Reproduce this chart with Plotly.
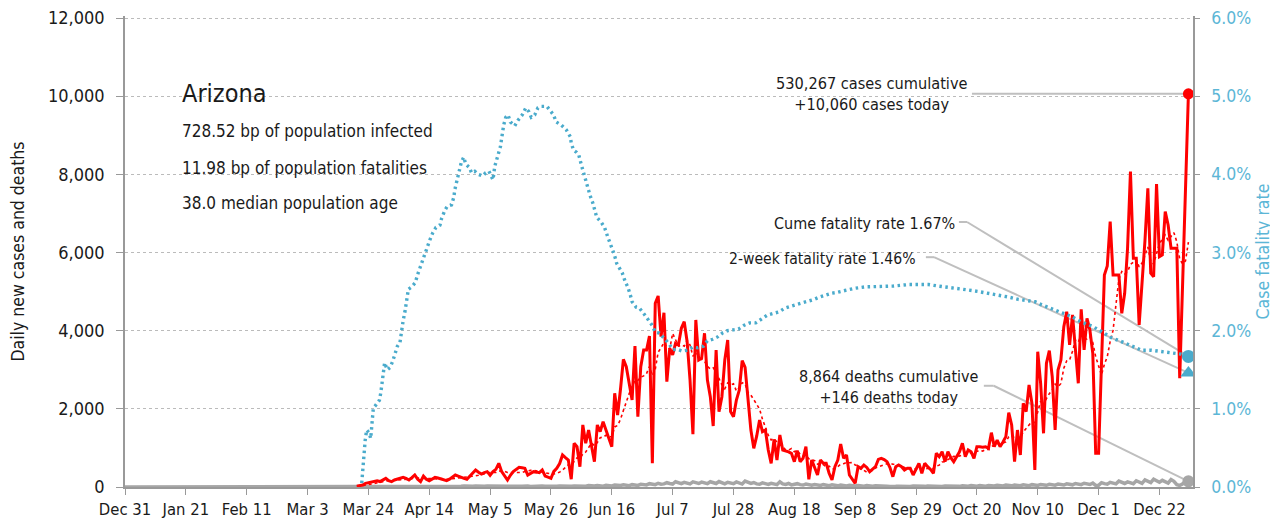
import pandas as pd
import plotly.graph_objects as go

# ---------------- data ----------------
case_start = "2020-03-20"
cases = [
    20, 30,
    50, 95, 110, 130, 150, 160, 140, 180, 222, 160,
    136, 180, 200, 230, 247, 220, 179, 240, 307, 200,
    136, 281, 200, 160, 200, 247, 230, 200, 180, 160,
    200, 260, 307, 280, 240, 220, 196, 280, 350, 435,
    380, 333, 370, 392, 300, 392, 450, 606, 392, 280,
    179, 300, 392, 450, 503, 490, 478, 307, 350, 392,
    380, 366, 435, 281, 250, 222, 400, 478, 600, 819,
    750, 690, 200, 1118, 1031, 520, 1587, 1118, 1458, 1031,
    648, 1587, 1416, 1672, 1458, 1200, 1031, 2398, 1842, 2500,
    3267, 3079, 2600, 2226, 3608, 1799, 3079, 3506, 3506, 3864,
    606, 4701, 4888, 3846, 4460, 2695, 3549, 3378, 3677, 3634,
    4061, 4231, 3718, 2738, 1349, 4274, 3250, 3293, 3933, 2738,
    2311, 1561, 3506, 1927, 2311, 3250, 3762, 1927, 1799, 2226,
    2480, 3232, 3063, 2200, 1458, 990, 1300, 1714, 1416, 1458,
    947, 606, 1220, 691, 1331, 947, 929, 900, 862, 648,
    929, 648, 734, 1031, 197, 691, 500, 307, 691, 606,
    606, 351, 179, 520, 691, 1100, 734, 819, 307, 200,
    94, 520, 478, 563, 500, 392, 450, 520, 708, 734,
    700, 648, 500, 264, 520, 563, 520, 435, 478, 478,
    307, 450, 606, 351, 606, 520, 450, 351, 862, 776,
    904, 648, 904, 750, 648, 776, 900, 1118, 776, 947,
    900, 734, 1031, 1031, 1020, 1031, 990, 1390, 1031, 1203,
    1031, 1150, 1288, 1901, 1587, 648, 1458, 819, 2142, 1927,
    2610, 2142, 435, 3462, 2653, 1374, 3165, 3488, 2823, 1458,
    2994, 3250, 4102, 4486, 3634, 4402, 3421, 2653, 4547, 3506,
    4317, 4018, 3421, 862, 862, 3079, 5425, 5655, 6789, 5425,
    5425, 5425, 4445, 4957, 6108, 8069, 5852, 5852, 4146, 5126,
    6300, 7644, 5468, 5382, 7754, 5894, 5937, 7045, 6705, 6108,
    6108, 6108, 2782, 5100, 7600, 10060,
]
deaths = [
    1, 1, 2, 2, 3, 2,
    3, 4, 3, 5, 6, 4, 7, 8, 6, 9,
    10, 8, 12, 9, 15, 11, 14, 10, 18, 12,
    16, 20, 14, 12, 18, 22, 15, 19, 13, 21,
    17, 24, 18, 15, 22, 26, 19, 14, 20, 23,
    25, 18, 28, 21, 16, 24, 30, 20, 17, 26,
    22, 19, 28, 24, 15, 20, 30, 18, 25, 22,
    17, 26, 21, 19, 28, 24, 16, 30, 22, 27,
    20, 33, 25, 18, 36, 28, 24, 40, 30, 22,
    45, 35, 28, 50, 42, 38, 55, 46, 35, 60,
    48, 40, 70, 58, 52, 85, 65, 60, 95, 72,
    80, 110, 90, 75, 135, 100, 85, 120, 95, 80,
    130, 105, 90, 125, 95, 85, 135, 110, 90, 140,
    100, 80, 120, 95, 85, 130, 100, 75, 150, 110,
    90, 115, 80, 70, 105, 85, 65, 95, 75, 60,
    135, 80, 65, 90, 55, 70, 85, 60, 50, 75,
    55, 45, 65, 50, 40, 60, 45, 35, 55, 40,
    30, 50, 35, 28, 45, 32, 25, 40, 30, 22,
    35, 25, 20, 30, 22, 18, 28, 20, 15, 25,
    18, 22, 15, 28, 20, 14, 25, 18, 12, 22,
    16, 24, 18, 14, 26, 20, 15, 28, 22, 18,
    30, 22, 16, 32, 24, 20, 35, 26, 18, 38,
    28, 22, 40, 30, 25, 45, 34, 28, 48, 36,
    30, 52, 40, 32, 55, 44, 35, 60, 48, 40,
    65, 52, 44, 70, 56, 48, 75, 60, 50, 80,
    65, 55, 90, 70, 60, 95, 78, 65, 100, 40,
    45, 110, 85, 70, 120, 95, 80, 150, 110, 90,
    130, 100, 85, 160, 120, 95, 180, 140, 110, 200,
    150, 120, 170, 130, 100, 190, 145, 60, 40, 80,
    120, 146,
]
# case fatality rate (%) read at day offsets from Dec 31, 2019
cfr_base = "2019-12-31"
cfr_day = [81.7, 82.1, 82.5, 82.9, 83.4, 84.3, 84.8, 85.2, 85.7, 86.6, 87.8, 88.3, 88.7, 89.2, 89.6,
           90.5, 91.5, 92.4, 93.2, 94.0, 94.9, 95.5, 96.0, 96.6, 97.0, 97.4, 97.8, 98.9, 100.1, 101.2,
           102.0, 102.9, 103.5, 104.3, 105.2, 106.2, 107.3, 108.7, 109.3, 110.4, 111.2, 112.7, 113.5,
           113.8, 114.4, 115.0, 115.6, 116.1, 116.9, 117.6, 118.8, 119.6, 120.7, 121.9, 123.4, 124.5,
           125.6, 126.5, 127.0, 127.6, 128.4, 129.1, 129.6, 129.9, 130.3, 130.7, 131.4, 132.2, 133.0,
           134.5, 135.6, 137.1, 138.3, 139.4, 140.2, 141.4, 142.5, 143.7, 145.6, 146.5, 147.9, 148.8,
           150.6, 152.3, 153.7, 154.0, 154.8, 155.9, 156.6, 157.5, 158.2, 158.9, 159.7, 160.5, 161.4,
           162.0, 162.8, 164.3, 165.5, 166.6, 167.4, 168.3, 168.9, 169.7, 170.6, 171.6, 172.7, 173.5,
           174.3, 175.0, 176.4, 177.5, 179.2, 180.7, 181.9, 183.0, 184.4, 186.1, 187.6, 189.0, 190.7,
           192.2, 194.1, 195.9, 197.6, 199.6, 201.0, 202.8, 204.5, 206.2, 207.9, 209.9, 211.7, 213.7,
           215.6, 217.7, 219.8, 221.7, 223.7, 225.7, 227.8, 229.7, 231.7, 233.7, 235.8, 237.8, 239.7,
           241.8, 243.9, 245.8, 247.7, 249.8, 251.5, 255.3, 259.2, 265.0, 270.5, 273.9, 277.3, 280.8,
           284.2, 287.7, 291.1, 294.6, 298.0, 301.4, 304.9, 308.3, 311.8, 314.1, 316.4, 319.8, 323.2,
           326.7, 330.1, 333.6, 337.0, 340.4, 343.9, 347.3, 350.8, 354.2, 357.7, 361.1, 364.5, 367.0]
cfr_pct = [0.05, 0.26, 0.43, 0.60, 0.73, 0.69, 0.62, 0.82, 1.01, 1.05, 1.11, 1.21, 1.33, 1.41, 1.59,
           1.50, 1.53, 1.61, 1.71, 1.80, 1.85, 2.05, 2.13, 2.24, 2.33, 2.43, 2.53, 2.56, 2.61, 2.74,
           2.83, 2.90, 2.99, 3.08, 3.16, 3.25, 3.32, 3.35, 3.44, 3.54, 3.59, 3.61, 3.71,
           3.80, 3.89, 3.99, 4.08, 4.16, 4.22, 4.13, 4.09, 4.02, 4.04, 4.00, 3.98, 4.02,
           4.04, 3.96, 3.93, 4.10, 4.20, 4.28, 4.36, 4.44, 4.54, 4.63, 4.73, 4.76, 4.67,
           4.62, 4.69, 4.76, 4.85, 4.80, 4.73, 4.76, 4.85, 4.87, 4.87, 4.83, 4.76, 4.67,
           4.63, 4.57, 4.48, 4.40, 4.31, 4.28, 4.25, 4.12, 4.02, 3.94, 3.84, 3.73, 3.64,
           3.57, 3.45, 3.39, 3.32, 3.20, 3.12, 3.06, 2.97, 2.86, 2.81, 2.74, 2.62, 2.56,
           2.47, 2.37, 2.30, 2.29, 2.21, 2.13, 2.07, 1.98, 1.97, 1.90, 1.84, 1.76, 1.76,
           1.74, 1.75, 1.79, 1.78, 1.80, 1.87, 1.89, 1.92, 1.97, 2.00, 2.01, 2.02, 2.07,
           2.10, 2.10, 2.15, 2.20, 2.22, 2.24, 2.29, 2.31, 2.33, 2.35, 2.38, 2.40, 2.43,
           2.46, 2.48, 2.49, 2.51, 2.53, 2.54, 2.56, 2.56, 2.57, 2.59, 2.59, 2.59, 2.57,
           2.55, 2.54, 2.52, 2.50, 2.48, 2.46, 2.43, 2.40, 2.38, 2.37, 2.33, 2.28, 2.23,
           2.18, 2.11, 2.06, 1.99, 1.91, 1.86, 1.80, 1.75, 1.75, 1.73, 1.71, 1.70, 1.67]
two_week_cfr_pct = 1.46
cume_cfr_pct = 1.67
total_cases = 530267
total_deaths = 8864

y_ticks = [0, 2000, 4000, 6000, 8000, 10000, 12000]
y2_ticks = [0.0, 0.01, 0.02, 0.03, 0.04, 0.05, 0.06]
x_ticks_start = "2019-12-31"
x_range = ["2019-12-31", "2021-01-02 14:00"]

# ---------------- styling ----------------
FONT = "DejaVu Sans Condensed, DejaVu Sans, sans-serif"
RED = "#ff0000"
BLUE = "#4aabcc"
BLUE_TXT = "#5cb6d6"
GRAY = "#a6a6a6"
LEAD = "#bfbfbf"
TXT = "#1a1a1a"

dates = pd.date_range(case_start, periods=len(cases), freq="D")
cases_s = pd.Series(cases, index=dates)
avg7 = cases_s.rolling(7, min_periods=1).mean()
full_dates = pd.date_range(x_ticks_start, dates[-1], freq="D")
deaths_s = pd.Series(deaths, index=dates).reindex(full_dates, fill_value=0)
cfr_dates = pd.Timestamp(cfr_base) + pd.to_timedelta(cfr_day, unit="D")
last = dates[-1]

fig = go.Figure()
fig.add_trace(go.Scatter(x=full_dates, y=deaths_s.values, mode="lines",
                         line=dict(color=GRAY, width=3.5), hoverinfo="skip"))
fig.add_trace(go.Scatter(x=dates, y=avg7.values, mode="lines",
                         line=dict(color=RED, width=1.6, dash="dot"), hoverinfo="skip"))
fig.add_trace(go.Scatter(x=dates, y=cases, mode="lines",
                         line=dict(color=RED, width=3), hoverinfo="skip"))
fig.add_trace(go.Scatter(x=cfr_dates, y=[v / 100 for v in cfr_pct], mode="lines", yaxis="y2",
                         line=dict(color=BLUE, width=3.4, dash="2.5px,3.5px"), hoverinfo="skip"))

# end markers
fig.add_trace(go.Scatter(x=[last], y=[cases[-1]], mode="markers",
                         marker=dict(color=RED, size=11), hoverinfo="skip"))
fig.add_trace(go.Scatter(x=[last], y=[deaths[-1]], mode="markers",
                         marker=dict(color=GRAY, size=12), hoverinfo="skip"))
fig.add_trace(go.Scatter(x=[last], y=[cume_cfr_pct / 100], mode="markers", yaxis="y2",
                         marker=dict(color=BLUE, size=13), hoverinfo="skip"))
fig.add_trace(go.Scatter(x=[last], y=[two_week_cfr_pct / 100], mode="markers", yaxis="y2",
                         marker=dict(color=BLUE, size=14, symbol="triangle-up"), hoverinfo="skip"))

base = pd.Timestamp(x_ticks_start)
def dd(days):
    return base + pd.Timedelta(days=days)

shapes = []
def seg(x0, y0, x1, y1, yref="y"):
    shapes.append(dict(type="line", xref="x", yref=yref, x0=x0, y0=y0, x1=x1, y1=y1,
                       line=dict(color=LEAD, width=2), layer="below"))

# cases leader
seg(dd(292.3), cases[-1], last, cases[-1])
# cume fatality leader
seg(dd(287.8), 0.0339, dd(290.6), 0.0339, "y2")
seg(dd(290.6), 0.0339, last, cume_cfr_pct / 100, "y2")
# 2-week fatality leader
seg(dd(276.4), 0.0294, dd(279.2), 0.0294, "y2")
seg(dd(279.2), 0.0294, last, two_week_cfr_pct / 100, "y2")
# deaths leader
seg(dd(296.4), 2590, dd(299.8), 2590)
seg(dd(299.8), 2590, last, deaths[-1])

# The page body has an 8px margin: the figure canvas starts at (8, 8) in the window.
OFF = 8
W, H = 1278 - OFF, 526 - OFF
PL, PR, PB = 125, 1193, 487       # plot-area edges in window pixels
Y12K = 18                         # window y of the 12,000 line
PT = Y12K - 2                     # plot top sits 2px above the top gridline
Y_TOP = 12000 * (PB - PT) / (PB - Y12K)
def px(x):
    return (x - PL) / (PR - PL)
def py(y):
    return (PB - y) / (PB - PT)

ann = []
def txt(x, y, s, size=16, xanchor="left", align="left", color=TXT):
    ann.append(dict(xref="paper", yref="paper", x=px(x), y=py(y), text=s, showarrow=False,
                    xanchor=xanchor, yanchor="middle", align=align,
                    font=dict(family=FONT, size=size, color=color)))

txt(180, 94, "Arizona", size=25)
txt(180, 131, "728.52 bp of population infected", size=17)
txt(180, 168, "11.98 bp of population fatalities", size=17)
txt(180, 203, "38.0 median population age", size=17)
txt(872, 94, f"{total_cases:,} cases cumulative<br>+{cases[-1]:,} cases today", size=16.2,
    xanchor="center", align="center")
txt(957, 223, f"Cume fatality rate {cume_cfr_pct:.2f}%", size=16, xanchor="right")
txt(918, 259, f"2-week fatality rate {two_week_cfr_pct:.2f}%", size=15.6, xanchor="right")
txt(889, 387, f"{total_deaths:,} deaths cumulative<br>+{deaths[-1]:,} deaths today", size=16,
    xanchor="center", align="center")

fig.update_layout(
    width=W, height=H,
    margin=dict(l=PL - OFF, r=W - (PR - OFF), t=PT - OFF, b=H - (PB - OFF), autoexpand=False),
    paper_bgcolor="white", plot_bgcolor="white",
    showlegend=False,
    font=dict(family=FONT, size=17, color="#333333"),
    shapes=shapes, annotations=ann,
    xaxis=dict(
        type="date", range=x_range, tick0=x_ticks_start, dtick=21 * 86400000,
        tickformat="%b %-d", showgrid=False, zeroline=False, automargin=False,
        showline=True, linecolor="#999999", linewidth=1.5, ticklabeloverflow="allow",
        ticks="outside", ticklen=6, tickcolor="#999999",
        tickfont=dict(family=FONT, size=16.5, color=TXT),
    ),
    yaxis=dict(
        range=[0, Y_TOP], tickmode="array", tickvals=y_ticks, tickformat=",", automargin=False,
        showgrid=True, gridcolor="#bbbbbb", griddash="dot", gridwidth=1,
        zeroline=False, showline=True, linecolor="#999999", linewidth=1.5,
        ticklabeloverflow="allow",
        ticks="outside", ticklen=7, tickcolor="#999999", ticklabelstandoff=8,
        tickfont=dict(family=FONT, size=18, color=TXT),
        title=dict(text="Daily new cases and deaths", standoff=24,
                   font=dict(family=FONT, size=17.5, color=TXT)),
    ),
    yaxis2=dict(
        overlaying="y", side="right", range=[0, 0.06 * Y_TOP / 12000], tickmode="array",
        tickvals=y2_ticks, tickformat=".1%", ticklabeloverflow="allow",
        showgrid=False, zeroline=False, showline=True, linecolor="#999999", linewidth=1.5,
        ticks="outside", ticklen=5, tickcolor="#999999", ticklabelstandoff=8, automargin=False,
        tickfont=dict(family=FONT, size=17.5, color=BLUE_TXT),
        title=dict(text="Case fatality rate", standoff=6,
                   font=dict(family=FONT, size=17.5, color=BLUE_TXT)),
    ),
)

fig.write_html("out.html")
